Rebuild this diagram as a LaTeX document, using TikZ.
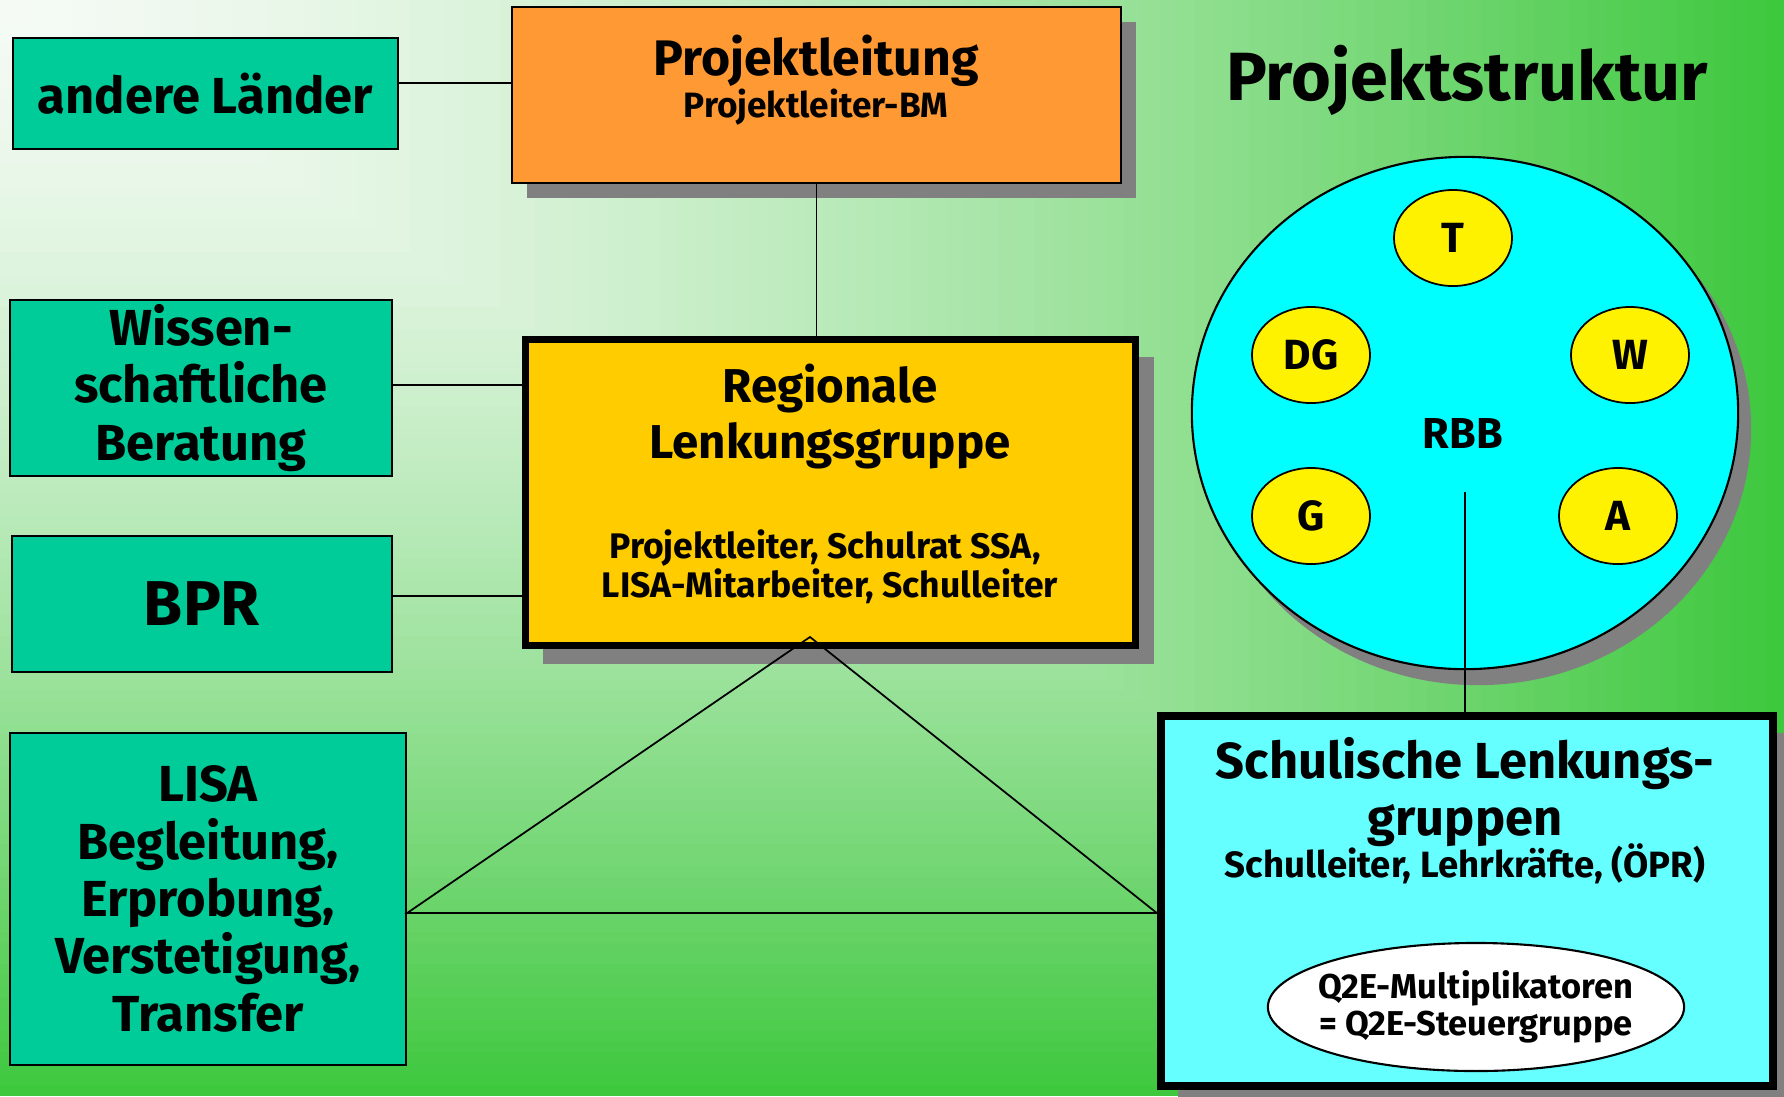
\documentclass[tikz,border=0pt]{standalone}
\usepackage{fontspec}
\setmainfont{Fira Sans}
\usetikzlibrary{shapes,shadows,positioning}
\definecolor{bgwhite}{HTML}{F5FAF5}
\definecolor{bggreen}{HTML}{3EC83E}
\definecolor{boxteal}{HTML}{00CC99}
\definecolor{leitorange}{HTML}{FF9933}
\definecolor{lenkyellow}{HTML}{FFCC00}
\definecolor{schulcyan}{HTML}{66FFFF}
\definecolor{rbbcyan}{HTML}{00FFFF}
\definecolor{shadowgray}{HTML}{808080}
\tikzset{
  sidebox/.style={draw=black, line width=0.6pt, fill=boxteal, inner sep=0pt, align=center,
    font=\bfseries\fontsize{14.4}{16.3}\selectfont},
  framebox/.style={draw=black, inner sep=0pt},
  gshadow/.style={drop shadow={shadow xshift=#1, shadow yshift=-#1, fill=shadowgray, opacity=1}},
  member/.style={ellipse, draw=black, line width=0.5pt, fill=yellow, inner sep=0pt,
    minimum width=1.18cm, minimum height=0.96cm, font=\bfseries\fontsize{12}{14}\selectfont},
  boxtext/.style={anchor=base, inner sep=0pt, font=\bfseries\fontsize{#1}{#1}\selectfont},
  link/.style={draw=black, line width=0.5pt},
}

\begin{document}
\begin{tikzpicture}[x=0.01cm, y=-0.01cm]
% background:
 \clip (0,0) rectangle (1784,1096);
 \foreach \i in {100,99,...,1}{
   \pgfmathsetmacro\mixp{100*(1-(\i/100)^1.5)}
   \fill[bgwhite!\mixp!bggreen] (0,0) rectangle (17.84*\i,10.96*\i);
 }
 \node[boxtext=19.4] (titel) at (1467,100) {Projektstruktur};
% left column:
 \node[sidebox, minimum width=3.85cm, minimum height=1.11cm] (laender) at (205.5,93.5) {andere Länder};
 \node[sidebox, minimum width=3.81cm, minimum height=1.76cm] (wissen) at (201,388) {Wissen-\\schaftliche\\Beratung};
 \node[sidebox, minimum width=3.79cm, minimum height=1.36cm, font=\bfseries\fontsize{18}{20}\selectfont] (bpr) at (202,604) {BPR};
 \node[sidebox, minimum width=3.96cm, minimum height=3.32cm] (lisa) at (208,899) {LISA\\Begleitung,\\Erprobung,\\Verstetigung,\\Transfer};
% Projektleitung:
 \node[framebox, line width=0.6pt, fill=leitorange, minimum width=6.09cm, minimum height=1.76cm, gshadow=0.15cm] (leitung) at (816.5,95) {};
 \node[boxtext=14.2] (leittitel) at (816,75) {Projektleitung};
 \node[boxtext=10] (leitsub) at (816,117) {Projektleiter-BM};
% regionale Lenkungsgruppe:
 \node[framebox, line width=0.07cm, fill=lenkyellow, minimum width=6.10cm, minimum height=3.06cm, gshadow=0.18cm] (regional) at (830.5,492.5) {};
 \draw[line width=0.5pt] ([shift={(6.5,6.5)}]regional.north west) rectangle ([shift={(-6.5,-6.5)}]regional.south east);
 \node[boxtext=13.5] (regtitel) at (830,402) {Regionale};
 \node[boxtext=13.5] (regtitelb) at (830,458) {Lenkungsgruppe};
 \node[boxtext=10.1] (regsub) at (825,558) {Projektleiter, Schulrat SSA,};
 \node[boxtext=10.1] (regsubb) at (830,597) {LISA-Mitarbeiter, Schulleiter};
% RBB:
 \node[ellipse, draw=black, line width=0.6pt, fill=rbbcyan, inner sep=0pt, minimum width=5.46cm, minimum height=5.12cm,
   drop shadow={shadow xshift=0.13cm, shadow yshift=-0.16cm, fill=shadowgray, opacity=1}] (rbbkreis) at (1465,413) {};
 \node[member] (t) at (1453,238) {T};
 \node[member] (dg) at (1311,355) {DG};
 \node[member] (w) at (1630,355) {W};
 \node[member] (g) at (1311,516) {G};
 \node[member] (a) at (1618,516) {A};
 \node[font=\bfseries\fontsize{12.3}{14}\selectfont] (rbb) at (1463,433) {RBB};
% schulische Lenkungsgruppen:
 \node[framebox, line width=0.08cm, fill=schulcyan, minimum width=6.12cm, minimum height=3.70cm, gshadow=0.17cm] (schule) at (1467,901) {};
 \draw[line width=0.5pt] ([shift={(7,7)}]schule.north west) rectangle ([shift={(-7,-7)}]schule.south east);
 \node[boxtext=14.4] (schultitel) at (1465,778) {Schulische Lenkungs-};
 \node[boxtext=14.4] (schultitelb) at (1465,835) {gruppen};
 \node[boxtext=10.4] (schulsub) at (1465,877) {Schulleiter, Lehrkräfte, (ÖPR)};
 \node[ellipse, draw=black, line width=0.6pt, fill=white, inner sep=0pt, minimum width=4.16cm, minimum height=1.28cm] (q2e) at (1476,1007) {};
 \node[align=center, inner sep=0pt, font=\bfseries\fontsize{9.8}{10.6}\selectfont] (q2etext) at (q2e.center) {Q2E-Multiplikatoren\\= Q2E-Steuergruppe};
%% connectors:
 \coordinate (laenderport) at ([yshift=0.105cm]laender.east);
 \coordinate (wissenport) at ([yshift=0.03cm]wissen.east);
 \coordinate (bprport) at ([yshift=0.08cm]bpr.east);
 \draw[link] (laenderport) -- (laenderport -| leitung.west);
 \draw[link] (wissenport) -- (wissenport -| regional.west);
 \draw[link] (bprport) -- (bprport -| regional.west);
 \draw[link] (leitung.south) -- (leitung.south |- regional.north);
 \coordinate (apex) at (810,637);
 \coordinate (lisaport) at (lisa.east |- 0,913);
 \coordinate (schulport) at (schule.west |- 0,913);
 \draw[link] (apex) -- (lisaport) -- (schulport) -- cycle;
 \coordinate (rbbfoot) at (1465,492);
 \draw[link] (rbbfoot) -- (rbbfoot |- schule.north);
\end{tikzpicture}
\end{document}
